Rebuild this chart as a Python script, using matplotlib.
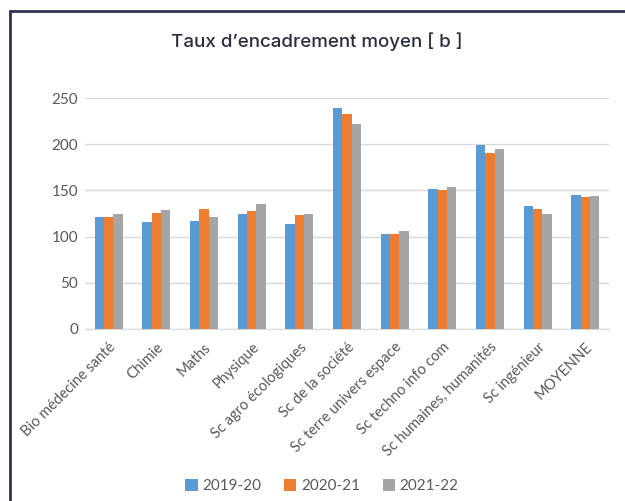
import matplotlib
matplotlib.use("Agg")
import matplotlib.pyplot as plt
import matplotlib.patches as mpatches
import numpy as np

categories = ["Bio médecine santé", "Chimie", "Maths", "Physique", "Sc agro écologiques",
              "Sc de la société", "Sc terre univers espace", "Sc techno info com",
              "Sc humaines, humanités", "Sc ingénieur", "MOYENNE"]
series_names = ["2019-20", "2020-21", "2021-22"]
v2019 = [121, 116, 117, 124, 114, 239, 103, 152, 199, 133, 145]
v2020 = [121, 126, 130, 128, 123, 233, 103, 150, 191, 130, 143]
v2021 = [124, 129, 121, 135, 125, 222, 106, 154, 195, 125, 144]
yticks = [0, 50, 100, 150, 200, 250]
colors = ["#5b9bd5", "#ed7d31", "#a5a5a5"]

fig = plt.figure(figsize=(6.25, 5.01), dpi=100)
fig.patch.set_facecolor("white")
ax = fig.add_axes([85/625, (501-329)/501, (609-85)/625, (329-98)/501])

x = np.arange(len(categories))
w = 0.196
for i, (vals, name, c) in enumerate(zip([v2019, v2020, v2021], series_names, colors)):
    ax.bar(x + (i - 1) * w, vals, width=w, color=c, label=name, zorder=3)

ax.set_xlim(-0.5, len(categories) - 0.5)
ax.set_ylim(0, 250)
ax.set_yticks(yticks)
ax.set_yticklabels([str(t) for t in yticks], fontfamily="Lato", fontsize=11, color="#595959")
ax.yaxis.grid(True, color="#d9d9d9", lw=1, zorder=0)
ax.set_xticks(x)
ax.set_xticklabels(categories, rotation=45, ha="right", rotation_mode="anchor",
                   fontfamily="Lato", fontsize=10.5, color="#595959")
ax.tick_params(axis="y", length=0, pad=5)
ax.tick_params(axis="x", length=0, pad=8)
for s in ["top", "right", "left"]:
    ax.spines[s].set_visible(False)
ax.spines["bottom"].set_color("#d9d9d9")

fig.text(317/625, 1 - 42/501, "Taux d\u2019encadrement moyen [ b ]", ha="center", va="center",
         fontfamily="Inter", fontweight="medium", fontsize=13.5, color="#2b2d42")

leg = fig.legend(loc="center", bbox_to_anchor=(322/625, 1 - 486/501), ncol=3, frameon=False,
                 prop={"family": "Lato", "size": 11}, handlelength=0.8, handleheight=0.8,
                 handletextpad=0.3, columnspacing=1.5)
for t in leg.get_texts():
    t.set_color("#595959")

fig.patches.append(mpatches.Rectangle((10/625, -0.1), 2, 1 - 11/501 + 0.1,
                                      transform=fig.transFigure, fill=False,
                                      lw=2, ec="#2d3250", figure=fig))

fig.savefig("out.png", dpi=100)
